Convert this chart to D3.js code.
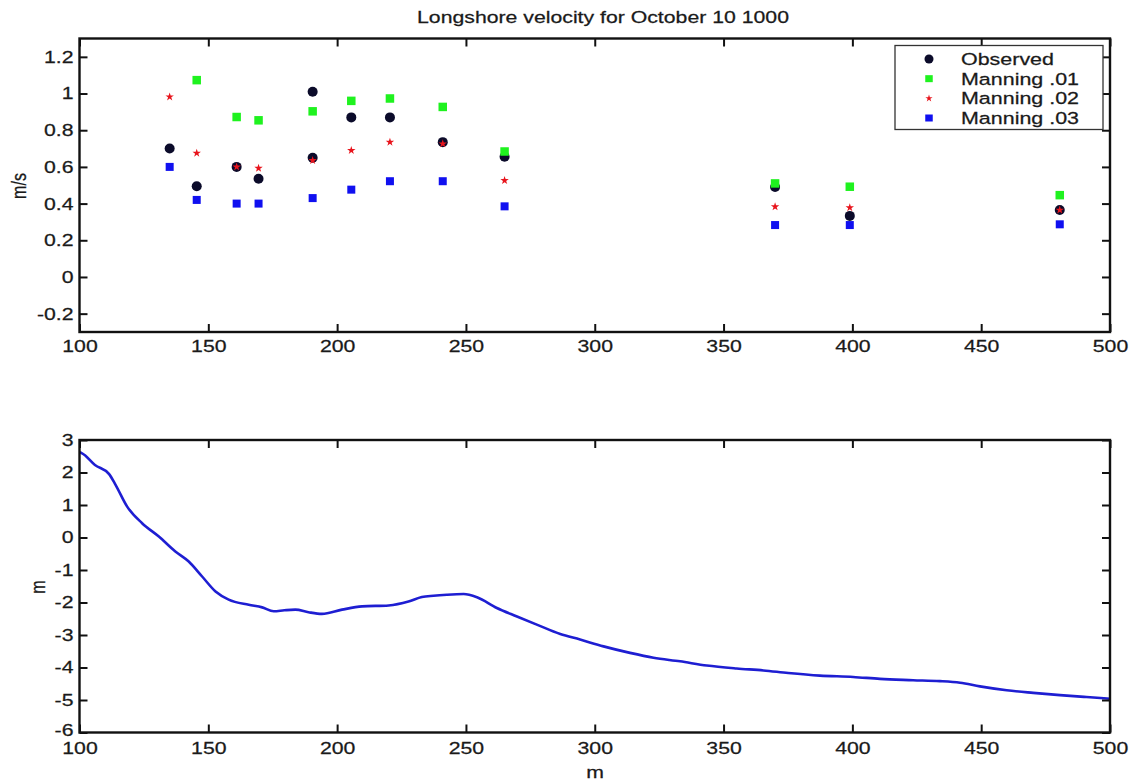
<!DOCTYPE html>
<html>
<head>
<meta charset="utf-8">
<script src="https://cdn.jsdelivr.net/npm/d3@7"></script>
<style>
  body { margin: 0; background: #ffffff; }
  svg { display: block; }
  text { font-family: "Liberation Sans", Arial, Helvetica, sans-serif; fill: #1a1a1a;
         stroke: #1a1a1a; stroke-width: 0.25px; }
</style>
</head>
<body>
<div id="chart"></div>
<script>
// Cross-shore positions of the current meters (m)
const stations = [135, 145.5, 161, 169.5, 190.5, 205.5, 220.5, 241, 265, 370, 399, 480.5];

// Observed longshore velocity (two sensors at 190.5)
const observedX = [135, 145.5, 161, 169.5, 190.5, 190.5, 205.5, 220.5, 241, 265, 370, 399, 480.5];
const observedV = [0.70, 0.495, 0.60, 0.535, 1.01, 0.65, 0.87, 0.87, 0.735, 0.655, 0.49, 0.333, 0.365];

// Model runs, one value per station
const manning01 = [null, 1.073, 0.872, 0.854, 0.903, 0.96, 0.973, 0.927, 0.684, 0.51, 0.492, 0.446];
const manning02 = [0.982, 0.675, 0.60, 0.593, 0.635, 0.69, 0.735, 0.726, 0.526, 0.383, 0.378, 0.365];
const manning03 = [0.60, 0.42, 0.40, 0.40, 0.43, 0.476, 0.522, 0.522, 0.385, 0.283, 0.283, 0.287];

// Bottom profile
const profileX = [100, 101, 106, 111.5, 114, 118.5, 124.3, 130.8, 137.2, 142.4, 147.6, 152.8, 157.9,
  165.7, 170.9, 175.4, 179.5, 183.8, 188.9, 194.1, 201.9, 209.7, 220, 227.7, 232.9, 237.4, 242.6,
  249.1, 254.3, 262, 269.8, 277.5, 286.6, 294.3, 303.4, 313.7, 322.8, 333.1, 343.5, 355.1, 365.5,
  375.1, 387.4, 400.3, 410.7, 423.6, 434, 441.8, 449.5, 459.9, 470.2, 480.6, 490.9, 500];
const profileZ = [2.62, 2.59, 2.23, 1.95, 1.62, 0.95, 0.44, 0.03, -0.43, -0.74, -1.20, -1.66, -1.91,
  -2.07, -2.15, -2.27, -2.24, -2.22, -2.30, -2.35, -2.22, -2.12, -2.09, -1.97, -1.83, -1.79, -1.76,
  -1.74, -1.84, -2.17, -2.43, -2.68, -2.97, -3.14, -3.35, -3.55, -3.70, -3.81, -3.94, -4.03, -4.09,
  -4.17, -4.25, -4.29, -4.35, -4.39, -4.42, -4.47, -4.58, -4.70, -4.78, -4.85, -4.91, -4.96];

const xTicks = [100, 150, 200, 250, 300, 350, 400, 450, 500];
const topYTicks = [-0.2, 0, 0.2, 0.4, 0.6, 0.8, 1, 1.2];
const botYTicks = [-6, -5, -4, -3, -2, -1, 0, 1, 2, 3];
const legendNames = ["Observed", "Manning .01", "Manning .02", "Manning .03"];

const width = 1135, height = 784;
const stretch = "scale(1.25,1)";   // the source figure's text is wide
const tickLen = 8;

const svg = d3.select("#chart").append("svg")
    .attr("width", width)
    .attr("height", height);

const x = d3.scaleLinear().domain([100, 500]).range([79.5, 1110]);
const yTop = d3.scaleLinear().domain([-0.3, 1.3]).range([332, 38.5]);
const yBot = d3.scaleLinear().domain([-6, 3]).range([732.5, 440]);

function fmt(d) { return d3.format("")(d).replace("\u2212", "-"); }

// Draws a boxed MATLAB style axes with inward ticks on all sides
function drawFrame(y, yTicks, padX) {
    const g = svg.append("g");
    const top = y.range()[1], bottom = y.range()[0];

    const bx = g.append("g").attr("transform", "translate(0," + bottom + ")")
        .call(d3.axisBottom(x).tickValues(xTicks).tickSize(-tickLen).tickSizeOuter(0)
            .tickPadding(padX).tickFormat(fmt));
    const tx = g.append("g").attr("transform", "translate(0," + top + ")")
        .call(d3.axisTop(x).tickValues(xTicks).tickSize(-tickLen).tickSizeOuter(0).tickFormat(""));
    const ly = g.append("g").attr("transform", "translate(" + x.range()[0] + ",0)")
        .call(d3.axisLeft(y).tickValues(yTicks).tickSize(-tickLen).tickSizeOuter(0)
            .tickPadding(4.8).tickFormat(fmt));
    const ry = g.append("g").attr("transform", "translate(" + x.range()[1] + ",0)")
        .call(d3.axisRight(y).tickValues(yTicks).tickSize(-tickLen).tickSizeOuter(0).tickFormat(""));

    [bx, tx, ly, ry].forEach(function (a) {
        a.select(".domain").remove();
        a.selectAll("line").attr("stroke", "#111").attr("stroke-width", 2);
        a.selectAll("text")
            .style("font-size", "17px")
            .attr("fill", "#1a1a1a")
            .attr("transform", stretch);
    });

    // lowest y label sits a little higher so it clears the x labels
    ly.selectAll(".tick text")
        .filter(function (d) { return d === yTicks[0] && bottom === yBot.range()[0]; })
        .attr("dy", "0.2em");

    g.append("rect")
        .attr("x", x.range()[0])
        .attr("y", top)
        .attr("width", x.range()[1] - x.range()[0])
        .attr("height", bottom - top)
        .attr("fill", "none")
        .attr("stroke", "#111")
        .attr("stroke-width", 2.4);
    return g;
}

// ---- Top panel: longshore velocity ----
const plot = svg.append("g");

plot.append("g").selectAll("circle")
    .data(observedX)
    .enter().append("circle")
    .attr("cx", function (d) { return x(d); })
    .attr("cy", function (d, i) { return yTop(observedV[i]); })
    .attr("r", 5)
    .attr("fill", "#0b0b2a");

const sq01 = 8.5, sq03 = 8;
plot.append("g").selectAll("rect")
    .data(stations.filter(function (d, i) { return manning01[i] !== null; }))
    .enter().append("rect")
    .attr("x", function (d) { return x(d) - sq01 / 2; })
    .attr("y", function (d) { return yTop(manning01[stations.indexOf(d)]) - sq01 / 2; })
    .attr("width", sq01).attr("height", sq01)
    .attr("fill", "#1ff21f");

plot.append("g").selectAll("path")
    .data(stations)
    .enter().append("path")
    .attr("d", d3.symbol().type(d3.symbolStar).size(22))
    .attr("transform", function (d, i) { return "translate(" + x(d) + "," + yTop(manning02[i]) + ")"; })
    .attr("fill", "#e8141c");

plot.append("g").selectAll("rect")
    .data(stations)
    .enter().append("rect")
    .attr("x", function (d) { return x(d) - sq03 / 2; })
    .attr("y", function (d, i) { return yTop(manning03[i]) - sq03 / 2; })
    .attr("width", sq03).attr("height", sq03)
    .attr("fill", "#1010f0");

drawFrame(yTop, topYTicks, 8);

// Title and y label
svg.append("text")
    .attr("transform", "translate(603,23) " + stretch)
    .attr("text-anchor", "middle")
    .style("font-size", "17px")
    .text("Longshore velocity for October 10 1000");

svg.append("text")
    .attr("transform", "translate(26,186) rotate(-90) scale(1,1.25)")
    .attr("text-anchor", "middle")
    .style("font-size", "16px")
    .text("m/s");

// Legend
const legend = svg.append("g").attr("transform", "translate(895,45.5)");
legend.append("rect")
    .attr("width", 208).attr("height", 84)
    .attr("fill", "#ffffff")
    .attr("stroke", "#333")
    .attr("stroke-width", 1.3);

const rowY = d3.scalePoint().domain(legendNames).range([13.5, 72.5]);
legendNames.forEach(function (name, i) {
    const ly = rowY(name);
    const item = legend.append("g").attr("transform", "translate(34," + ly + ")");
    if (i === 0) {
        item.append("circle").attr("r", 4.5).attr("fill", "#0b0b2a");
    } else if (i === 2) {
        item.append("path").attr("d", d3.symbol().type(d3.symbolStar).size(16)).attr("fill", "#e8141c");
    } else {
        item.append("rect").attr("x", -3.75).attr("y", -3.5).attr("width", 7.5).attr("height", 7)
            .attr("fill", i === 1 ? "#1ff21f" : "#1010f0");
    }
    legend.append("text")
        .attr("transform", "translate(66," + (ly + 6) + ") scale(1.3,1)")
        .style("font-size", "16.5px")
        .text(name);
});

// ---- Bottom panel: bathymetry profile ----
const line = d3.line()
    .x(function (d) { return x(d); })
    .y(function (d, i) { return yBot(profileZ[i]); })
    .curve(d3.curveMonotoneX);

svg.append("path")
    .datum(profileX)
    .attr("d", line)
    .attr("fill", "none")
    .attr("stroke", "#1e1ed2")
    .attr("stroke-width", 2.6);

drawFrame(yBot, botYTicks, 9);

svg.append("text")
    .attr("transform", "translate(595,778) " + stretch)
    .attr("text-anchor", "middle")
    .style("font-size", "17px")
    .text("m");

svg.append("text")
    .attr("transform", "translate(45,587) rotate(-90) scale(1,1.25)")
    .attr("text-anchor", "middle")
    .style("font-size", "16px")
    .text("m");
</script>
</body>
</html>
